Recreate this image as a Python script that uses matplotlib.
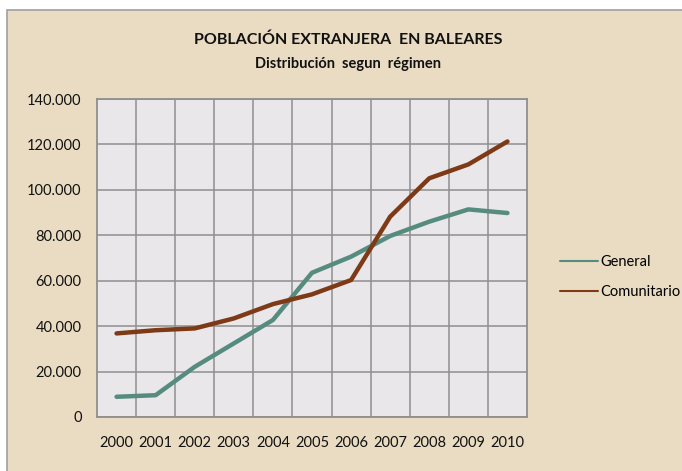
import matplotlib
matplotlib.use("Agg")
import matplotlib.pyplot as plt
from matplotlib.patches import Rectangle
from matplotlib.ticker import FuncFormatter, MultipleLocator, FixedLocator

# data
years = ["2000", "2001", "2002", "2003", "2004", "2005",
         "2006", "2007", "2008", "2009", "2010"]
general = [8900, 9600, 22100, 32400, 42700, 63500,
           70600, 79700, 86000, 91400, 89800]
comunitario = [36800, 38200, 39000, 43400, 49700, 54000,
               60300, 88200, 105100, 111200, 121300]

BG = "#EADCC2"
PLOT_BG = "#E9E7E9"
GRID = "#8F8F8F"
C_GEN = "#568C80"
C_COM = "#7E3A17"

plt.rcParams["font.family"] = ["Lato", "DejaVu Sans"]

fig = plt.figure(figsize=(6.82, 4.71), dpi=100)
fig.patch.set_facecolor("white")

# beige frame behind everything
fig.patches.append(Rectangle((7 / 682, -0.02), 1.1, (471 - 10) / 471 + 0.02,
                             transform=fig.transFigure, facecolor=BG,
                             edgecolor="#A0A0A0", linewidth=1.2, zorder=-5))

ax = fig.add_axes([97 / 682, 1 - 417 / 471, (527 - 97) / 682, (417 - 99) / 471])
ax.set_facecolor(PLOT_BG)

x = range(len(years))
ax.plot(x, general, color=C_GEN, lw=3.2, solid_capstyle="round",
        solid_joinstyle="round", label="General", zorder=3)
ax.plot(x, comunitario, color=C_COM, lw=3.2, solid_capstyle="round",
        solid_joinstyle="round", label="Comunitario", zorder=3)

ax.set_xlim(-0.5, len(years) - 0.5)
ax.set_ylim(0, 140000)
ax.set_xticks(list(x))
ax.set_xticklabels(years)
ax.xaxis.set_minor_locator(FixedLocator([i + 0.5 for i in range(len(years) - 1)]))
ax.yaxis.set_major_locator(MultipleLocator(20000))
ax.yaxis.set_major_formatter(FuncFormatter(lambda v, p: f"{v:,.0f}".replace(",", ".")))

ax.grid(True, which="minor", axis="x", color=GRID, lw=1.1)
ax.grid(True, which="major", axis="y", color=GRID, lw=1.1)
ax.set_axisbelow(True)
ax.tick_params(which="both", length=0)
ax.tick_params(axis="x", pad=14, labelsize=10.5, colors="#111111")
ax.tick_params(axis="y", pad=11, labelsize=10.5, colors="#111111")
for s in ax.spines.values():
    s.set_color(GRID)
    s.set_linewidth(1.3)

fig.text(348 / 682, 1 - 40 / 471, "POBLACIÓN EXTRANJERA  EN BALEARES",
         ha="center", va="center", fontsize=11.5, fontweight="bold", color="#111111")
fig.text(348 / 682, 1 - 64 / 471, "Distribución  segun  régimen",
         ha="center", va="center", fontsize=10.5, fontweight="bold", color="#111111")

handles, labels = ax.get_legend_handles_labels()
leg = fig.legend(handles, labels, loc="center left",
                 bbox_to_anchor=(554 / 682, 1 - 277 / 471), frameon=False,
                 fontsize=10.5, handlelength=2.6, handletextpad=0.2,
                 labelspacing=1.1, borderaxespad=0)
for line in leg.get_lines():
    line.set_linewidth(1.5)

fig.savefig("out.png", dpi=100, facecolor=fig.get_facecolor())
